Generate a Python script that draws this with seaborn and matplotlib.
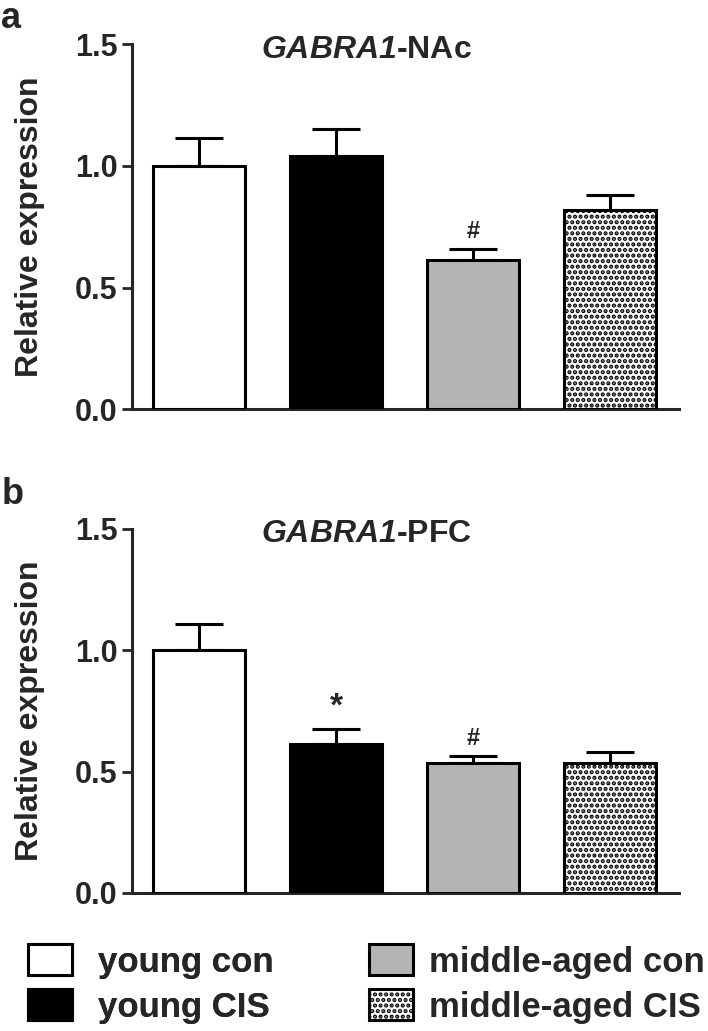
import pandas as pd
import matplotlib
matplotlib.use("Agg")
import matplotlib.pyplot as plt
from matplotlib.patches import Patch
import seaborn as sns

groups = ["young con", "young CIS", "middle-aged con", "middle-aged CIS"]
colors = ["white", "black", "#b4b4b4", "white"]
hatches = [None, None, None, "..."]

nac_mean = [1.00, 1.04, 0.615, 0.82]
nac_sem = [0.115, 0.11, 0.045, 0.062]
nac_marks = ["", "", "#", ""]

pfc_mean = [1.00, 0.615, 0.535, 0.535]
pfc_sem = [0.11, 0.06, 0.028, 0.045]
pfc_marks = ["", "*", "#", ""]

sns.set_style("ticks")
plt.rcParams["font.family"] = ["Liberation Sans", "DejaVu Sans"]
plt.rcParams["font.weight"] = "bold"
plt.rcParams["mathtext.fontset"] = "custom"
plt.rcParams["mathtext.bfit"] = "Liberation Sans:italic:bold"
plt.rcParams["hatch.linewidth"] = 2.1


def panel(ax, means, sems, marks, title):
    df = pd.DataFrame({"group": groups, "value": means})
    sns.barplot(data=df, x="group", y="value", hue="group", palette=colors,
                order=groups, hue_order=groups, legend=False, width=0.67,
                edgecolor="black", linewidth=2.2, ax=ax, zorder=3)
    for patch, h in zip(ax.patches, hatches):
        if h:
            patch.set_hatch(h)
    ax.errorbar(range(len(groups)), means, yerr=[[0] * len(groups), sems],
                fmt="none", ecolor="black", elinewidth=2.2, capsize=17,
                capthick=2.2, zorder=2)
    for i, (m, s, mk) in enumerate(zip(means, sems, marks)):
        if mk:
            size = 24 if mk == "*" else 17
            ax.text(i, m + s + 0.025, mk, ha="center", va="bottom",
                    fontsize=size, fontweight="bold")
    ax.set_xlim(-0.49, 3.5)
    ax.set_ylim(0, 1.5)
    ax.set_yticks([0.0, 0.5, 1.0, 1.5])
    ax.set_yticklabels(["0.0", "0.5", "1.0", "1.5"], fontsize=22, fontweight="bold")
    ax.set_xticks([])
    ax.set_xlabel("")
    ax.set_ylabel("Relative expression", fontsize=23, fontweight="bold", labelpad=22)
    ax.tick_params(axis="y", width=2, length=7, pad=3)
    for side in ["left", "bottom"]:
        ax.spines[side].set_linewidth(2.2)
    for side in ["top", "right"]:
        ax.spines[side].set_visible(False)
    ax.text(0.428, 0.985, title, transform=ax.transAxes, ha="center",
            va="center", fontsize=23, fontweight="bold")


fig = plt.figure(figsize=(7.08, 10.31), dpi=100)
ax1 = fig.add_axes([0.186, 0.603, 0.773, 0.354])
ax2 = fig.add_axes([0.186, 0.134, 0.773, 0.353])

panel(ax1, nac_mean, nac_sem, nac_marks, r"$\mathbfit{GABRA1}$-NAc")
panel(ax2, pfc_mean, pfc_sem, pfc_marks, r"$\mathbfit{GABRA1}$-PFC")

fig.text(0.002, 0.999, "a", fontsize=26, fontweight="bold", va="top")
fig.text(0.002, 0.537, "b", fontsize=26, fontweight="bold", va="top")

handles = [Patch(facecolor=c, edgecolor="black", linewidth=2.2, hatch=h)
           for c, h in zip(colors, hatches)]
leg1 = fig.legend(handles[:2], groups[:2], loc="lower left",
                  bbox_to_anchor=(0.025, -0.003), frameon=False,
                  handlelength=1.27, handleheight=1.0, handletextpad=0.75,
                  labelspacing=0.3, borderpad=0.3, borderaxespad=0,
                  prop={"weight": "bold", "size": 25})
fig.add_artist(leg1)
fig.legend(handles[2:], groups[2:], loc="lower left",
           bbox_to_anchor=(0.507, -0.003), frameon=False,
           handlelength=1.27, handleheight=1.0, handletextpad=0.45,
           labelspacing=0.3, borderpad=0.3, borderaxespad=0,
           prop={"weight": "bold", "size": 25})

fig.savefig("out.png", dpi=100)
